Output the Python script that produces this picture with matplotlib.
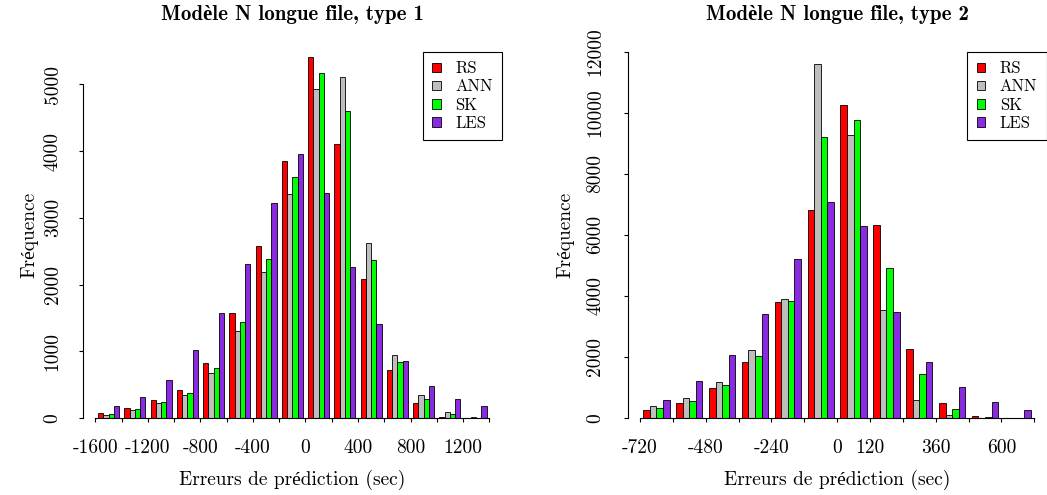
import numpy as np
import matplotlib
matplotlib.use("Agg")
import matplotlib.pyplot as plt

plt.rcParams['axes.unicode_minus'] = False

# --- data ---
series = ['RS', 'ANN', 'SK', 'LES']
colors = ['#FF0000', '#BEBEBE', '#00FF00', '#8A2BE2']

# type 1: bins of 200 s from -1600 to 1400
edges1 = np.arange(-1600, 1401, 200)
rs1  = [70, 150, 265, 425, 830, 1575, 2585, 3850, 5415, 4100, 2090, 720, 220, 20, 2]
ann1 = [51, 115, 220, 350, 670, 1310, 2195, 3355, 4925, 5105, 2630, 950, 340, 95, 20]
sk1  = [66, 135, 245, 380, 755, 1440, 2390, 3605, 5175, 4605, 2365, 835, 280, 55, 5]
les1 = [175, 310, 575, 1015, 1575, 2315, 3220, 3955, 3365, 2260, 1410, 860, 485, 285, 185]
xlabels1 = ['-1600', '', '-1200', '', '-800', '', '-400', '', '0', '', '400', '', '800', '', '1200', '']

# type 2: bins of 120 s from -720 to 720
edges2 = np.arange(-720, 721, 120)
rs2  = [272, 490, 982, 1833, 3797, 6818, 10245, 6318, 2268, 490, 75, 5]
ann2 = [392, 655, 1178, 2213, 3895, 11597, 9283, 3535, 589, 98, 15, 5]
sk2  = [327, 556, 1080, 2029, 3840, 9198, 9764, 4910, 1427, 295, 40, 5]
les2 = [600, 1220, 2072, 3391, 5205, 7070, 6285, 3470, 1833, 1015, 524, 272]
xlabels2 = ['-720', '', '-480', '', '-240', '', '0', '120', '', '360', '', '600', '']

FONT = ['cmr10', 'Liberation Serif']
BFONT = ['cmb10', 'Liberation Serif']
FS = 14


def hist_panel(fig, rect, edges, vals, xlabels, yticks, ylim, title, ylab_off, ypad):
    ax = fig.add_axes(rect)
    step = edges[1] - edges[0]
    w = step / 5.0
    for k, (v, c, name) in enumerate(zip(vals, colors, series)):
        ax.bar(edges[:-1] + w / 2 + k * w, v, width=w, align='edge',
               color=c, edgecolor='black', linewidth=0.6, label=name)
    pad = w * (0.04 * (len(edges[:-1]) * 5 - 1) - 0.5)
    ax.set_xlim(edges[0] - pad, edges[-1] + pad)
    ax.set_ylim(*ylim)
    for s in ['top', 'right']:
        ax.spines[s].set_visible(False)
    ax.spines['left'].set_bounds(yticks[0], yticks[-1])
    ax.spines['bottom'].set_bounds(edges[0], edges[-1])
    ax.spines['left'].set_linewidth(0.8)
    ax.spines['bottom'].set_linewidth(0.8)
    ax.set_xticks(edges)
    ax.set_xticklabels(xlabels, family=FONT, fontsize=FS)
    ax.set_yticks(yticks)
    ax.set_yticklabels([str(t) for t in yticks], family=FONT, fontsize=FS,
                       rotation=90, va='center')
    ax.tick_params(axis='x', length=3, width=0.8, pad=12)
    ax.tick_params(axis='y', length=3, width=0.8, pad=ypad)
    ax.set_xlabel('Erreurs de prédiction (sec)', family=FONT, fontsize=FS)
    ax.xaxis.set_label_coords(0.5, -52 / 366.3)
    ax.set_ylabel('Fréquence', family=FONT, fontsize=FS)
    ax.yaxis.set_label_coords(-ylab_off / (rect[2] * 1047), 0.5)
    leg = ax.legend(loc='upper right', bbox_to_anchor=(1, 1), borderaxespad=0,
                    fancybox=False, edgecolor='black', framealpha=1,
                    prop={'family': FONT, 'size': 12}, handlelength=0.5,
                    handleheight=0.5, handletextpad=0.9, labelspacing=0.18,
                    borderpad=0.55)
    leg.get_frame().set_linewidth(0.8)
    fig.text(rect[0] + rect[2] / 2, 1 - 15 / 495, title, ha='center', va='center',
             family=BFONT, fontweight='bold', fontsize=15)
    return ax


fig = plt.figure(figsize=(10.47, 4.95), dpi=100)
bot = (495 - 418) / 495
hgt = (418 - 51.7) / 495

hist_panel(fig, [82.5 / 1047, bot, (502.2 - 82.5) / 1047, hgt], edges1,
           [rs1, ann1, sk1, les1], xlabels1, list(range(0, 5001, 1000)), (0, 5490),
           'Modèle N longue file, type 1', 44, 12)
hist_panel(fig, [627.7 / 1047, bot, (1046.5 - 627.7) / 1047, hgt], edges2,
           [rs2, ann2, sk2, les2], xlabels2, list(range(0, 12001, 2000)), (0, 12000),
           'Modèle N longue file, type 2', 53, 14)

fig.savefig('out.png', dpi=100)
